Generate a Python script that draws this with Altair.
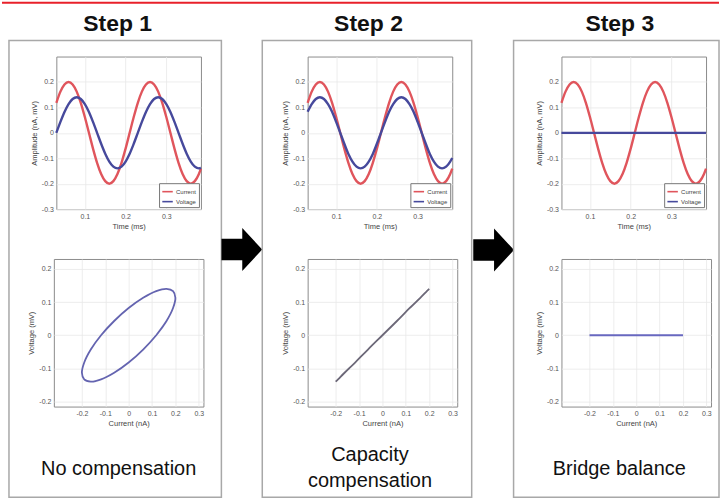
import altair as alt
import pandas as pd

# ---------------- data ----------------
TIME = [0.03, 0.04, 0.05, 0.06, 0.07, 0.08, 0.09, 0.10, 0.11, 0.12, 0.13, 0.14,
        0.15, 0.16, 0.17, 0.18, 0.19, 0.20, 0.21, 0.22, 0.23, 0.24, 0.25, 0.26,
        0.27, 0.28, 0.29, 0.30, 0.31, 0.32, 0.33, 0.34, 0.35, 0.36, 0.37, 0.38, 0.385]
CURRENT = [0.118, 0.162, 0.190, 0.200, 0.190, 0.162, 0.118, 0.062, 0.000, -0.062,
           -0.118, -0.162, -0.190, -0.200, -0.190, -0.162, -0.118, -0.062, 0.000, 0.062,
           0.118, 0.162, 0.190, 0.200, 0.190, 0.162, 0.118, 0.062, 0.000, -0.062,
           -0.118, -0.162, -0.190, -0.200, -0.190, -0.162, -0.141]
VOLT_STEP1 = [0.000, 0.043, 0.082, 0.113, 0.133, 0.140, 0.133, 0.113, 0.082, 0.043,
              0.000, -0.043, -0.082, -0.113, -0.133, -0.140, -0.133, -0.113, -0.082, -0.043,
              0.000, 0.043, 0.082, 0.113, 0.133, 0.140, 0.133, 0.113, 0.082, 0.043,
              0.000, -0.043, -0.082, -0.113, -0.133, -0.140, -0.138]
VOLT_STEP2 = [0.083, 0.113, 0.133, 0.140, 0.133, 0.113, 0.083, 0.043, 0.000, -0.043,
              -0.083, -0.113, -0.133, -0.140, -0.133, -0.113, -0.083, -0.043, 0.000, 0.043,
              0.083, 0.113, 0.133, 0.140, 0.133, 0.113, 0.083, 0.043, 0.000, -0.043,
              -0.083, -0.113, -0.133, -0.140, -0.133, -0.113, -0.099]
VOLT_STEP3 = [0.0, 0.0, 0.0, 0.0, 0.0, 0.0, 0.0, 0.0, 0.0, 0.0,
              0.0, 0.0, 0.0, 0.0, 0.0, 0.0, 0.0, 0.0, 0.0, 0.0,
              0.0, 0.0, 0.0, 0.0, 0.0, 0.0, 0.0, 0.0, 0.0, 0.0,
              0.0, 0.0, 0.0, 0.0, 0.0, 0.0, 0.0]
VOLTAGES = [VOLT_STEP1, VOLT_STEP2, VOLT_STEP3]

STEP_TITLES = ["Step 1", "Step 2", "Step 3"]
CAPTIONS = ["No compensation", "Capacity\ncompensation", "Bridge balance"]
SERIES = ["Current", "Voltage"]
TIME_TICKS = [0.1, 0.2, 0.3]
AMP_TICKS = [-0.3, -0.2, -0.1, 0, 0.1, 0.2]
CUR_TICKS = [-0.2, -0.1, 0, 0.1, 0.2, 0.3]
VOLT_TICKS = [-0.2, -0.1, 0, 0.1, 0.2]

# ---------------- styling / layout ----------------
FONT = "Liberation Sans"
RED = "#e0555c"
BLUE = "#46499c"
XY_COLORS = ["#6464b0", "#6c6878", "#6868c0"]
LABEL_EXPR = "replace(datum.label, '\u2212', '-')"

TOP_W, TOP_H = 145, 153
BOT_W, BOT_H = 150, 148
COL_GAP, ROW_GAP = 104.5, 50
STEP = BOT_W + COL_GAP
T0X, T0Y = 55.5, 55

FRAMES = [(8, 221), (262, 472), (514, 720)]
FRAME_Y = (39, 497)
TITLE_X = [117, 371, 623]
TITLE_Y = 22
CAPTION_X = [118, 370, 620]
CAPTION_Y = [469, 455, 469]
ARROWS = [(241.5, 248.5), (494, 249)]
ARROW_PATH = "M -0.95 -0.5 L 0.02 -0.5 L 0.02 -1 L 0.95 0 L 0.02 1 L 0.02 0.5 L -0.95 0.5 Z"


def top_origin(i):
    return (T0X + i * STEP, T0Y)


def bot_origin(i):
    return (T0X - (BOT_W - TOP_W) / 2 + i * STEP, T0Y + TOP_H + ROW_GAP)


one = pd.DataFrame({"a": [0]})


def top_chart(i):
    rows = []
    for s, vals in zip(SERIES, [CURRENT, VOLTAGES[i]]):
        for t, v in zip(TIME, vals):
            rows.append({"t": t, "v": v, "series": s})
    df = pd.DataFrame(rows)
    lines = alt.Chart(df).mark_line(strokeWidth=2.4, interpolate="monotone").encode(
        x=alt.X("t:Q", scale=alt.Scale(domain=[0.03, 0.385], nice=False, zero=False),
                axis=alt.Axis(values=TIME_TICKS, title="Time (ms)", format=".1~f",
                              labelExpr=LABEL_EXPR)),
        y=alt.Y("v:Q", scale=alt.Scale(domain=[-0.3, 0.3], nice=False),
                axis=alt.Axis(values=AMP_TICKS, title="Amplitude (nA, mV)", format=".1~f",
                              labelExpr=LABEL_EXPR)),
        color=alt.Color("series:N", scale=alt.Scale(domain=SERIES, range=[RED, BLUE]),
                        legend=alt.Legend(title=None, orient="bottom-right")),
        order="t:Q",
    )
    ox, oy = top_origin(i)
    title = alt.Chart(pd.DataFrame({"label": [STEP_TITLES[i]]})).mark_text(
        font=FONT, fontSize=23, fontWeight="bold", color="#111", align="center", baseline="middle"
    ).encode(x=alt.value(TITLE_X[i] - ox), y=alt.value(TITLE_Y - oy), text="label:N")
    layers = [lines, title]
    if i == 0:
        red = alt.Chart(one).mark_rule(color="#e8202a", strokeWidth=2).encode(
            x=alt.value(-ox + 1), x2=alt.value(720 - ox), y=alt.value(1 - oy))
        layers.append(red)
    return alt.layer(*layers).properties(width=TOP_W, height=TOP_H)


def bot_chart(i):
    df = pd.DataFrame({"k": list(range(len(TIME))), "cur": CURRENT, "volt": VOLTAGES[i]})
    xy = alt.Chart(df).mark_line(strokeWidth=1.8, interpolate="catmull-rom", color=XY_COLORS[i]).encode(
        x=alt.X("cur:Q", scale=alt.Scale(domain=[-0.32, 0.32], nice=False, zero=False),
                axis=alt.Axis(values=CUR_TICKS, title="Current (nA)", format=".1~f",
                              labelExpr=LABEL_EXPR)),
        y=alt.Y("volt:Q", scale=alt.Scale(domain=[-0.215, 0.23], nice=False, zero=False),
                axis=alt.Axis(values=VOLT_TICKS, title="Voltage (mV)", format=".1~f",
                              labelExpr=LABEL_EXPR)),
        order="k:Q",
    )
    ox, oy = bot_origin(i)
    fl, fr = FRAMES[i]
    frame = alt.Chart(one).mark_rect(fillOpacity=0, stroke="#a8a8a8", strokeWidth=1.5).encode(
        x=alt.value(fl - ox), x2=alt.value(fr - ox),
        y=alt.value(FRAME_Y[0] - oy), y2=alt.value(FRAME_Y[1] - oy))
    caption = alt.Chart(pd.DataFrame({"label": [CAPTIONS[i]]})).mark_text(
        font=FONT, fontSize=20, color="#111", align="center", baseline="middle",
        lineBreak="\n", lineHeight=26
    ).encode(x=alt.value(CAPTION_X[i] - ox), y=alt.value(CAPTION_Y[i] - oy), text="label:N")
    layers = [xy, frame, caption]
    if i < 2:
        ax, ay = ARROWS[i]
        arrow = alt.Chart(one).mark_point(shape=ARROW_PATH, filled=True, color="black",
                                          size=1850, opacity=1, strokeWidth=0).encode(
            x=alt.value(ax - ox), y=alt.value(ay - oy))
        layers.append(arrow)
    return alt.layer(*layers).properties(width=BOT_W, height=BOT_H)


tops = [top_chart(i) for i in range(3)]
bots = [bot_chart(i) for i in range(3)]

chart = alt.concat(
    *tops, *bots, columns=3, bounds="flush", center=True,
    spacing={"row": ROW_GAP, "column": COL_GAP},
).resolve_scale(
    color="independent"
).resolve_legend(
    color="independent"
).properties(
    padding=0, background="white"
).configure_view(
    stroke="#8c8c8c", strokeWidth=1
).configure_axis(
    labelFont=FONT, titleFont=FONT, labelFontSize=7, titleFontSize=7.5,
    labelColor="#555", titleColor="#444", titleFontWeight="normal",
    grid=True, gridColor="#e8e8e8", gridWidth=0.8, domain=False, ticks=False,
    labelPadding=3, titlePadding=3,
).configure_legend(
    labelFont=FONT, labelFontSize=6, labelColor="#444", symbolType="stroke",
    symbolSize=110, symbolStrokeWidth=1.6, strokeColor="#777", fillColor="white",
    padding=2, offset=2, rowPadding=0, labelOffset=2, cornerRadius=0,
)

chart.save("out.html", embed_options={"renderer": "svg", "actions": False})
